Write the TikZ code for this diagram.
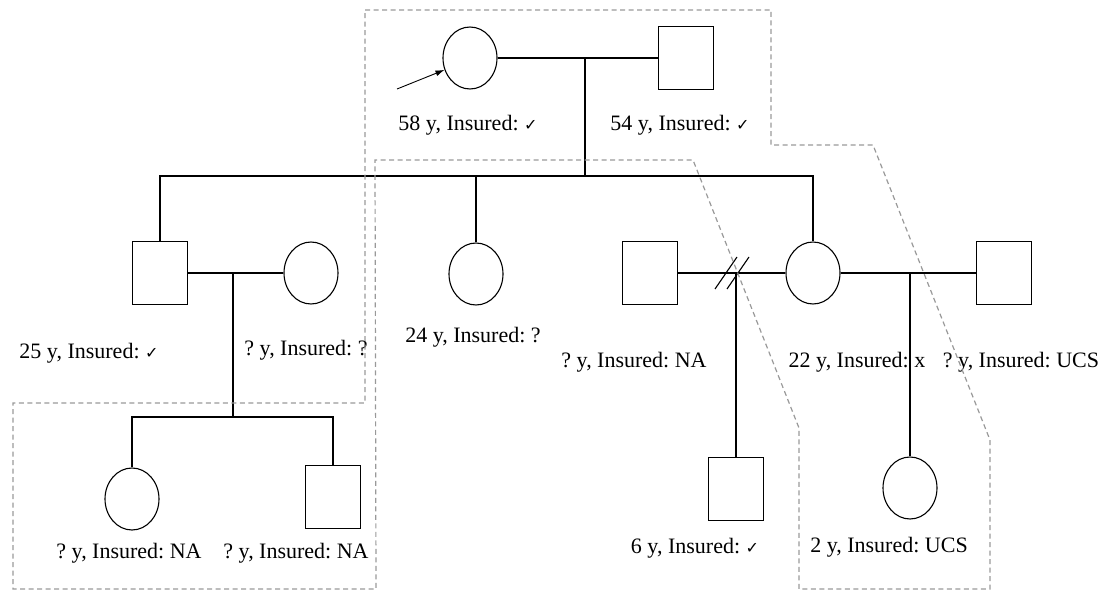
\documentclass[tikz,border=0pt]{standalone}
\usepackage{fontspec}
\setmainfont{Liberation Serif}
\newfontfamily\checkfont{DejaVu Sans}
\usetikzlibrary{shapes.geometric,arrows.meta}
\newcommand{\tick}{{\checkfont\fontsize{16}{16}\selectfont ✓}}
\frenchspacing

\tikzset{
    female/.style={draw, ellipse, minimum width=54pt, minimum height=62pt, inner sep=0pt, line width=1.1pt},
    male/.style={draw, rectangle, minimum width=55pt, minimum height=63pt, inner sep=0pt, line width=1.1pt},
    info/.style={font=\fontsize{22}{24}\selectfont, inner sep=0pt},
    family/.style={line width=1.1pt},
    outline/.style={draw=gray!80, line width=1.2pt, dash pattern=on 5pt off 3.5pt}
}

\begin{document}
\begin{tikzpicture}[x=1pt, y=-1pt]
    \useasboundingbox (0,0) rectangle (1114,594);

    % Grandparents
    \node[female] (gm) at (470,58) {};
    \node[male] (gf) at (686,58) {};
    \node[info] (gmlab) at (468,125) {58 y, Insured: \tick};
    \node[info] (gflab) at (680,125) {54 y, Insured: \tick};
    \coordinate (pr) at (397,89);
    \draw[line width=0.9pt, -{Latex[length=9pt,width=6pt]}] (pr) -- (gm.205);
    \draw[family] (gm) -- (gf);
    \coordinate (j0) at (585,58);
    \draw[family] (j0) -- ++(0,119) coordinate (sib);

    % Children
    \node[male] (s25) at (160,273) {};
    \node[female] (w25) at (311,273) {};
    \node[female] (d24) at (476,274) {};
    \node[male] (h1) at (650,273) {};
    \node[female] (d22) at (813,273) {};
    \node[male] (h2) at (1004,273) {};
    \node[info] (s25lab) at (89,353) {25 y, Insured: \tick};
    \node[info] (w25lab) at (306,350) {? y, Insured: ?};
    \node[info] (d24lab) at (473,337) {24 y, Insured: ?};
    \node[info] (h1lab) at (634,362) {? y, Insured: NA};
    \node[info] (d22lab) at (857,362) {22 y, Insured: x};
    \node[info] (h2lab) at (1021,362) {? y, Insured: UCS};
    \draw[family] (s25.north) -- ++(0,-65) -| (d22.north);
    \draw[family] (d24.north) -- (d24.north |- sib);

    % Grandchildren of the son
    \node[female] (g1) at (132,499) {};
    \node[male] (g2) at (333,497) {};
    \node[info] (g1lab) at (129,553) {? y, Insured: NA};
    \node[info] (g2lab) at (296,553) {? y, Insured: NA};
    \draw[family] (s25) -- (w25);
    \coordinate (j1) at (233,273);
    \draw[family] (j1) -- ++(0,144) coordinate (j1b);
    \draw[family] (g1.north) |- (j1b) -| (g2.north);

    % Divorced couple and their son
    \node[male] (c6) at (736,489) {};
    \node[info] (c6lab) at (695,548) {6 y, Insured: \tick};
    \draw[family] (h1) -- (d22);
    \coordinate (dv) at (736,273);
    \draw[family] (dv) -- (c6.north);
    \draw[family] (dv) ++(-21,16) -- ++(22,-32);
    \draw[family] (dv) ++(-9,16) -- ++(22,-32);

    % Second marriage and daughter
    \node[female] (c2) at (910,488) {};
    \node[info] (c2lab) at (889,547) {2 y, Insured: UCS};
    \draw[family] (d22) -- (h2);
    \coordinate (j3) at (910,273);
    \draw[family] (j3) -- (c2.north);

    % Dashed outline
    \draw[outline] (365,10) -- (771,10) -- (771,145) -- (873,145) -- (990,440)
        -- (990,589) -- (799,589) -- (799,428) -- (693,160) -- (375,160)
        -- (376,589) -- (13,589) -- (13,403) -- (365,403) -- cycle;
\end{tikzpicture}
\end{document}
